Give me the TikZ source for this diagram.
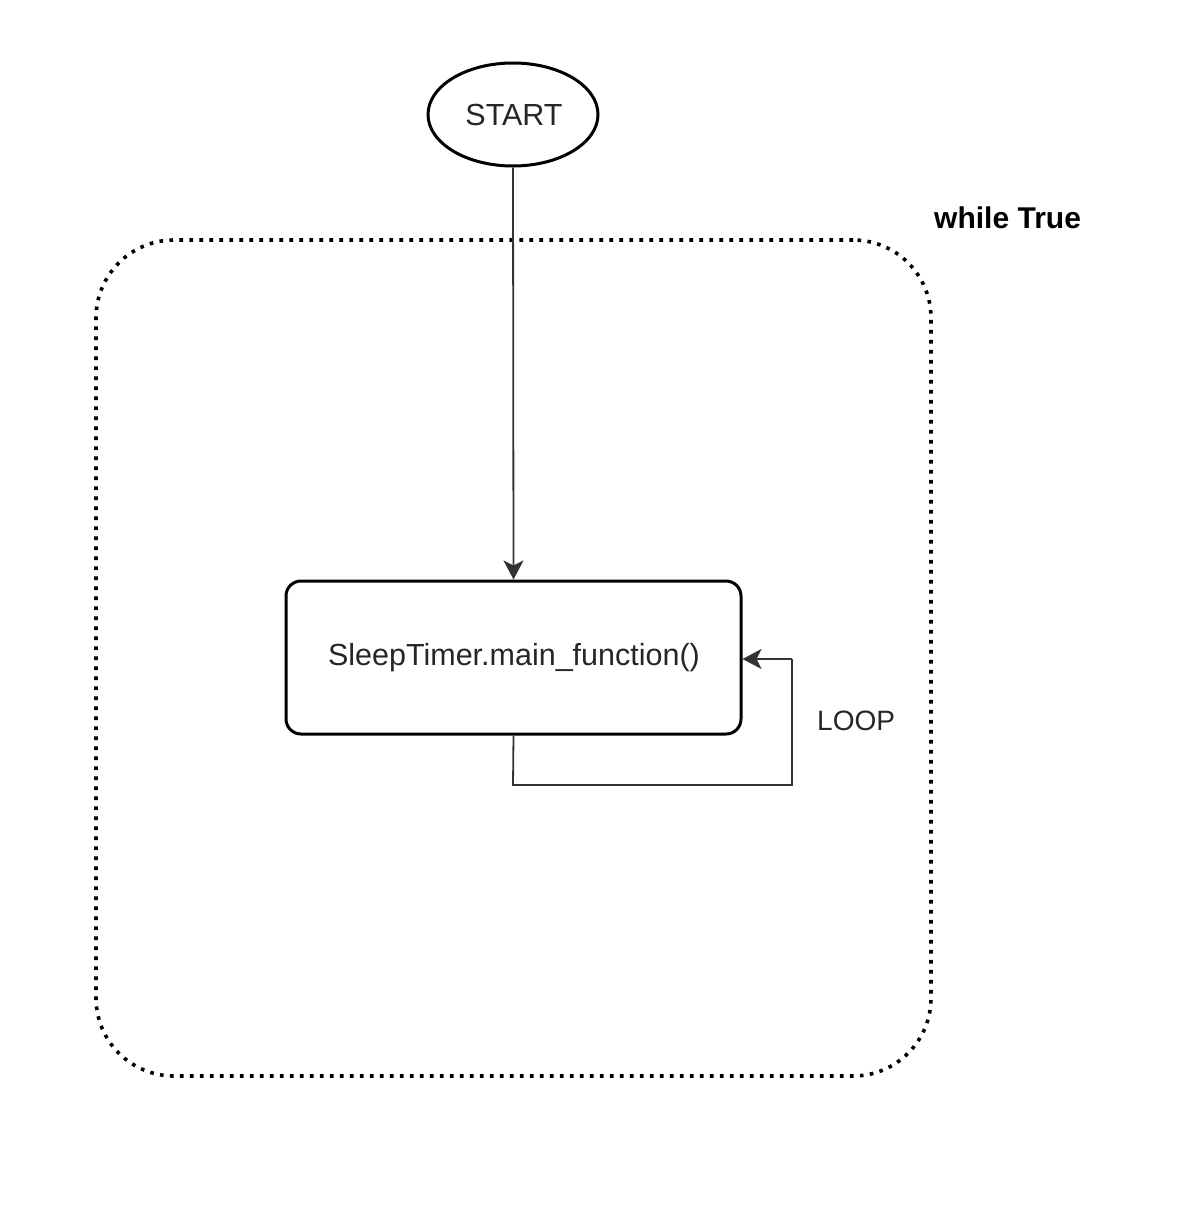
\documentclass[tikz,border=0pt]{standalone}
\usepackage{fontspec}
\setmainfont{Liberation Sans}
\usetikzlibrary{shapes.geometric,arrows.meta}
\begin{document}
\begin{tikzpicture}[x=1pt,y=-1pt,
  lbl/.style={font=\fontsize{30.5}{34}\selectfont, text=black!85, inner sep=0pt},
  conn/.style={draw=black!80, line width=1.8pt, -{Stealth[length=19pt,width=20pt,inset=5pt]}},
  plainconn/.style={draw=black!80, line width=1.8pt}
]
\useasboundingbox[fill=white] (0,0) rectangle (1187,1212);
% container
\node[draw=black, line width=3.6pt, dash pattern=on 3.6pt off 6.4pt, rounded corners=78pt,
      minimum width=835pt, minimum height=836pt, inner sep=0pt] (loopbox) at (513.5,658) {};
\node[font=\bfseries\fontsize{30}{33}\selectfont, inner sep=0pt, anchor=west] (wt) at (934,218) {while True};
% start
\node[ellipse, draw=black, line width=3pt, minimum width=170pt, minimum height=103pt, inner sep=0pt] (start) at (513,114.5) {};
\node[lbl] (starttxt) at (514,115) {START};
% main box
\node[draw=black, line width=3pt, rounded corners=15pt, minimum width=455pt, minimum height=153pt, inner sep=0pt] (main) at (513.5,657.5) {};
\node[lbl, font=\fontsize{30.5}{34}\selectfont] (maintxt) at (514,658) {SleepTimer.main\_function()};
% connectors
\draw[conn] (start.south) -- (main.north);
\coordinate (c1) at (513,785);
\coordinate (c2) at (792,785);
\coordinate (c3) at (792,659);
\draw[plainconn] (main.south) -- (c1) -- (c2) -- (c3);
\draw[conn] (c3) -- (main.east |- c3);
\node[lbl, font=\fontsize{28}{32}\selectfont, anchor=west] (looptxt) at (817,721) {LOOP};
\end{tikzpicture}
\end{document}
